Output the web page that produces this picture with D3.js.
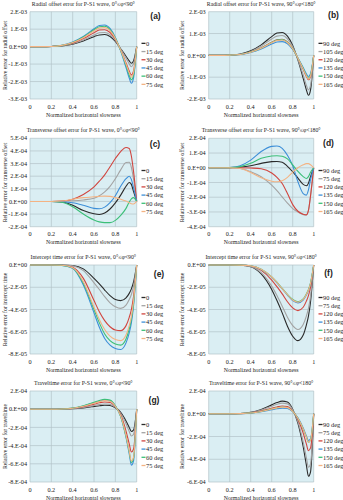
<!DOCTYPE html>
<html>
<head>
<meta charset="utf-8">
<script src="https://cdn.jsdelivr.net/npm/d3@7"></script>
<style>
  html, body { margin: 0; padding: 0; background: #ffffff; }
  svg { display: block; }
  text { font-family: "Liberation Serif", "Times New Roman", serif; fill: #222; }
  .plabel { font-family: "Liberation Sans", Arial, sans-serif; font-weight: bold; }
</style>
</head>
<body>
<svg id="chart" width="343" height="500"></svg>
<script>
// Normalized horizontal slowness sample points shared by every curve
const slowness = [0, 0.1, 0.2, 0.3, 0.4, 0.5, 0.6, 0.65, 0.7, 0.75, 0.8, 0.85, 0.9, 0.93, 0.95, 0.97, 1];

// Legend entries
const azimuthsLow = ["0", "15 deg", "30 deg", "45 deg", "60 deg", "75 deg"];
const azimuthsHighB = ["90 deg", "105 deg", "120 deg", "135 deg", "150 deg", "165 deg"];
const azimuthsHigh = ["90 deg", "75 deg", "120 deg", "135 deg", "150 deg", "165 deg"];

// (a) radial offset error, 0 <= phi < 90  (x 1e-3)
const radialLow = [
  [0, 0, 0.01, 0.04, 0.14, 0.32, 0.57, 0.67, 0.69, 0.58, 0.30, -0.12, -0.55, -0.82, -0.95, -0.82, 0],
  [0, 0, 0.01, 0.05, 0.17, 0.38, 0.67, 0.79, 0.81, 0.68, 0.35, -0.14, -0.66, -0.99, -1.15, -0.99, 0],
  [0, 0, 0.01, 0.06, 0.20, 0.46, 0.80, 0.95, 0.97, 0.81, 0.42, -0.20, -0.93, -1.40, -1.62, -1.40, 0],
  [0, 0, 0.01, 0.08, 0.26, 0.58, 1.02, 1.21, 1.24, 1.04, 0.53, -0.25, -1.20, -1.80, -2.10, -1.80, 0],
  [0, 0, 0.01, 0.07, 0.24, 0.55, 0.97, 1.14, 1.17, 0.98, 0.50, -0.23, -1.08, -1.64, -1.90, -1.64, 0],
  [0, 0, 0.01, 0.07, 0.23, 0.51, 0.90, 1.06, 1.09, 0.91, 0.47, -0.21, -1.00, -1.50, -1.75, -1.50, 0]
];
// (b) radial offset error, 90 <= phi < 180  (x 1e-3)
const radialHigh = [
  [0, 0, 0.01, 0.06, 0.21, 0.48, 0.86, 1.02, 1.05, 0.88, 0.45, -0.22, -1.05, -1.58, -1.83, -1.58, 0],
  [0, 0, 0.01, 0.05, 0.18, 0.42, 0.75, 0.88, 0.91, 0.76, 0.39, -0.19, -0.90, -1.37, -1.58, -1.37, 0],
  [0, 0, 0.01, 0.04, 0.15, 0.34, 0.60, 0.71, 0.73, 0.61, 0.31, -0.14, -0.64, -0.97, -1.12, -0.97, 0],
  [0, 0, 0.01, 0.04, 0.13, 0.29, 0.52, 0.61, 0.63, 0.53, 0.27, -0.12, -0.56, -0.84, -0.97, -0.84, 0],
  [0, 0, 0.01, 0.04, 0.15, 0.33, 0.59, 0.70, 0.72, 0.60, 0.31, -0.13, -0.60, -0.91, -1.05, -0.91, 0],
  [0, 0, 0.01, 0.04, 0.14, 0.32, 0.58, 0.68, 0.70, 0.59, 0.30, -0.13, -0.62, -0.94, -1.09, -0.94, 0]
];
// (c) transverse offset error, 0 <= phi < 90  (x 1e-4)
const transverseLow = [
  [0, 0, 0, -0.05, -0.30, -0.72, -0.98, -1.03, -0.92, -0.60, -0.12, 0.50, 1.20, 1.50, 1.35, 0.80, 0],
  [0, 0, 0, 0.01, 0.05, 0.12, 0.25, 0.45, 0.76, 1.20, 1.80, 2.50, 3.08, 3.10, 2.70, 1.80, 0],
  [0, 0, 0, 0.03, 0.18, 0.55, 1.15, 1.60, 2.10, 2.75, 3.40, 3.95, 4.27, 4.20, 3.60, 2.40, 0],
  [0, 0, 0, -0.02, -0.10, -0.30, -0.55, -0.58, -0.45, -0.10, 0.45, 1.20, 1.80, 2.00, 1.75, 1.10, 0],
  [0, 0, 0, -0.06, -0.42, -1.00, -1.47, -1.62, -1.68, -1.68, -1.50, -1.10, -0.55, -0.05, 0.20, 0.30, 0],
  [0, 0, 0, 0.03, 0.18, 0.30, 0.37, 0.40, 0.42, 0.40, 0.30, 0.18, 0.03, -0.10, -0.18, -0.20, 0]
];
// (d) transverse offset error, 90 <= phi < 180  (x 1e-4)
const transverseHigh = [
  [0, 0, 0.01, 0.05, 0.14, 0.30, 0.42, 0.43, 0.38, 0.10, -0.27, -0.70, -1.13, -1.22, -1.05, -0.60, 0],
  [0, 0, 0, -0.05, -0.27, -0.61, -1.18, -1.55, -1.98, -2.40, -2.77, -3.00, -3.18, -3.20, -2.90, -1.90, 0],
  [0, 0, 0, 0, -0.02, -0.07, -0.35, -0.65, -1.07, -1.75, -2.50, -2.95, -3.15, -3.20, -2.90, -1.90, 0],
  [0, 0, 0.02, 0.14, 0.52, 1.10, 1.45, 1.48, 1.32, 0.85, 0.14, -0.95, -1.75, -1.86, -1.50, -0.80, 0],
  [0, 0, 0.01, 0.08, 0.30, 0.64, 0.80, 0.82, 0.78, 0.60, 0.20, -0.25, -0.60, -0.73, -0.60, -0.30, 0],
  [0, 0, 0, -0.05, -0.32, -0.68, -0.91, -0.95, -0.88, -0.65, -0.30, 0.00, 0.20, 0.28, 0.28, 0.20, 0]
];
// (e) intercept time error, 0 <= phi < 90  (x 1e-5)
const interceptLow = [
  [0, 0, 0, 0, -0.05, -0.35, -1.20, -1.70, -2.25, -2.75, -3.10, -3.20, -2.95, -2.55, -2.15, -1.55, 0],
  [0, 0, 0, -0.01, -0.08, -0.50, -1.60, -2.20, -2.85, -3.40, -3.75, -3.90, -3.60, -3.10, -2.65, -1.90, 0],
  [0, 0, 0, -0.02, -0.20, -1.20, -3.20, -4.20, -5.00, -5.55, -5.85, -5.90, -5.45, -4.70, -4.00, -2.85, 0],
  [0, 0, 0, -0.03, -0.30, -1.80, -4.30, -5.60, -6.60, -7.20, -7.50, -7.60, -7.00, -6.10, -5.20, -3.70, 0],
  [0, 0, 0, -0.03, -0.28, -1.65, -4.00, -5.20, -6.20, -6.80, -7.10, -7.20, -6.65, -5.75, -4.90, -3.50, 0],
  [0, 0, 0, -0.02, -0.25, -1.50, -3.80, -4.90, -5.80, -6.40, -6.70, -6.80, -6.30, -5.45, -4.65, -3.30, 0]
];
// (f) intercept time error, 90 <= phi < 180  (x 1e-5)
const interceptHigh = [
  [0, 0, 0, -0.02, -0.15, -0.80, -2.20, -3.20, -4.30, -5.50, -6.40, -6.80, -6.30, -5.40, -4.60, -3.30, 0],
  [0, 0, 0, -0.02, -0.13, -0.68, -1.90, -2.75, -3.70, -4.70, -5.45, -5.80, -5.35, -4.60, -3.90, -2.80, 0],
  [0, 0, 0, -0.01, -0.09, -0.48, -1.35, -1.95, -2.60, -3.30, -3.85, -4.10, -3.80, -3.25, -2.75, -2.00, 0],
  [0, 0, 0, -0.01, -0.08, -0.40, -1.10, -1.60, -2.15, -2.70, -3.20, -3.40, -3.15, -2.70, -2.30, -1.65, 0],
  [0, 0, 0, -0.01, -0.07, -0.38, -1.07, -1.55, -2.10, -2.65, -3.10, -3.30, -3.05, -2.60, -2.20, -1.60, 0],
  [0, 0, 0, -0.01, -0.08, -0.39, -1.08, -1.57, -2.12, -2.67, -3.15, -3.35, -3.10, -2.65, -2.25, -1.62, 0]
];
// (g) traveltime error, 0 <= phi < 90  (x 1e-4)
const traveltimeLow = [
  [0, 0, 0, 0.01, 0.05, 0.15, 0.30, 0.38, 0.43, 0.40, 0.15, -0.35, -1.30, -2.00, -2.45, -2.30, 0],
  [0, 0, 0, 0.01, 0.06, 0.20, 0.40, 0.50, 0.57, 0.53, 0.20, -0.45, -1.60, -2.45, -2.95, -2.75, 0],
  [0, 0, 0, 0.02, 0.09, 0.28, 0.55, 0.70, 0.79, 0.74, 0.28, -0.60, -2.40, -3.80, -4.70, -4.40, 0],
  [0, 0, 0, 0.02, 0.11, 0.36, 0.70, 0.89, 1.00, 0.94, 0.35, -0.80, -3.10, -4.90, -6.15, -5.70, 0],
  [0, 0, 0, 0.02, 0.12, 0.38, 0.75, 0.96, 1.08, 1.00, 0.37, -0.80, -3.00, -4.70, -5.85, -5.40, 0],
  [0, 0, 0, 0.02, 0.10, 0.33, 0.65, 0.83, 0.94, 0.88, 0.33, -0.75, -2.90, -4.60, -5.70, -5.30, 0]
];
// (h) traveltime error, 90 <= phi < 180  (x 1e-4)
const traveltimeHigh = [
  [0, 0, 0, 0.02, 0.12, 0.38, 0.78, 0.98, 1.11, 1.03, 0.40, -0.85, -2.90, -4.50, -5.50, -5.10, 0],
  [0, 0, 0, 0.02, 0.10, 0.32, 0.66, 0.83, 0.93, 0.87, 0.34, -0.72, -2.50, -3.85, -4.70, -4.40, 0],
  [0, 0, 0, 0.01, 0.07, 0.23, 0.48, 0.60, 0.68, 0.63, 0.24, -0.50, -1.70, -2.65, -3.25, -3.00, 0],
  [0, 0, 0, 0.01, 0.05, 0.17, 0.35, 0.44, 0.49, 0.46, 0.18, -0.36, -1.25, -1.95, -2.35, -2.20, 0],
  [0, 0, 0, 0.01, 0.06, 0.20, 0.42, 0.53, 0.59, 0.55, 0.21, -0.40, -1.35, -2.05, -2.50, -2.30, 0],
  [0, 0, 0, 0.01, 0.06, 0.20, 0.41, 0.52, 0.58, 0.54, 0.20, -0.40, -1.33, -2.05, -2.50, -2.30, 0]
];

// Axis ticks (in the panel's unit)
const xTicks = [0, 0.2, 0.4, 0.6, 0.8, 1];
const xTickLabels = ["0", "0.2", "0.4", "0.6", "0.8", "1"];
const yTicksRadialLow = [-3, -2, -1, 0, 1, 2];
const yTicksRadialHigh = [-2, -1, 0, 1, 2];
const yTicksTransLow = [-2, -1, 0, 1, 2, 3, 4, 5];
const yTicksTransHigh = [-4, -3, -2, -1, 0, 1, 2];
const yTicksIntercept = [-8, -6, -4, -2, 0];
const yTicksTravelLow = [-8, -6, -4, -2, 0, 2];
const yTicksTravelHigh = [-6, -4, -2, 0, 2];

// Series colours in legend order
const seriesColors = ["#2a2a2a", "#a3a3a3", "#d1453f", "#3d8fd8", "#3cbf78", "#f4b383"];

const lowTag = "0°≤φ<90°";
const highTag = "90°≤φ<180°";

const panels = [
  { title: "Radial offset error for P-S1 wave, " + lowTag, yTitle: "Relative error for radial offset",
    data: radialLow, exp: 3, ticks: yTicksRadialLow, legend: azimuthsLow, tag: "(a)", col: 0, row: 0, tagPos: [155.5, 16] },
  { title: "Radial offset error for P-S1 wave, " + highTag, yTitle: "Relative error for radial offset",
    data: radialHigh, exp: 3, ticks: yTicksRadialHigh, legend: azimuthsHighB, tag: "(b)", col: 1, row: 0, tagPos: [333.5, 15] },
  { title: "Transverse offset error for P-S1 wave, " + lowTag, yTitle: "Relative error for transverse offset",
    data: transverseLow, exp: 4, ticks: yTicksTransLow, legend: azimuthsLow, tag: "(c)", col: 0, row: 1, tagPos: [155, 144] },
  { title: "Transverse offset error for P-S1 wave, " + highTag, yTitle: "Relative error for transverse offset",
    data: transverseHigh, exp: 4, ticks: yTicksTransHigh, legend: azimuthsHigh, tag: "(d)", col: 1, row: 1, tagPos: [328.5, 143] },
  { title: "Intercept time error for P-S1 wave, " + lowTag, yTitle: "Relative error for intercept time",
    data: interceptLow, exp: 5, ticks: yTicksIntercept, legend: azimuthsLow, tag: "(e)", col: 0, row: 2, tagPos: [159, 274] },
  { title: "Intercept time error for P-S1 wave, " + highTag, yTitle: "Relative error for intercept time",
    data: interceptHigh, exp: 5, ticks: yTicksIntercept, legend: azimuthsHigh, tag: "(f)", col: 1, row: 2, tagPos: [328.5, 273] },
  { title: "Traveltime error for P-S1 wave, " + lowTag, yTitle: "Relative error for traveltime",
    data: traveltimeLow, exp: 4, ticks: yTicksTravelLow, legend: azimuthsLow, tag: "(g)", col: 0, row: 3, tagPos: [154, 400] },
  { title: "Traveltime error for P-S1 wave, " + highTag, yTitle: "Relative error for traveltime",
    data: traveltimeHigh, exp: 4, ticks: yTicksTravelHigh, legend: azimuthsHigh, tag: null, col: 1, row: 3, tagPos: null }
];

// Plot-area geometry
const colX = [[30, 136.7], [208.7, 313.7]];
const rowY = [[11.7, 99], [138.3, 226.7], [265, 354], [391, 482]];
const yTitleX = [5, 181.5];
const legendX = [141.5, 318.5];

function sciLabel(v, exp) {
  if (v === 0) return "0.E+00";
  return v + ".E-" + String(exp).padStart(2, "0");
}

const svg = d3.select("#chart");

panels.forEach(p => {
  const [x0, x1] = colX[p.col];
  const [y0, y1] = rowY[p.row];
  const unit = Math.pow(10, -p.exp);
  const x = d3.scaleLinear().domain([0, 1]).range([x0, x1]);
  const y = d3.scaleLinear()
    .domain([d3.min(p.ticks) * unit, d3.max(p.ticks) * unit])
    .range([y1, y0]);

  const g = svg.append("g");

  // plot background
  g.append("rect").attr("x", x0).attr("y", y0)
    .attr("width", x1 - x0).attr("height", y1 - y0).attr("fill", "#daeef3");

  // grid
  g.append("g").selectAll("line.v").data(xTicks).join("line")
    .attr("x1", d => x(d)).attr("x2", d => x(d)).attr("y1", y0).attr("y2", y1)
    .attr("stroke", "#b3c3c8").attr("stroke-width", 0.7);
  g.append("g").selectAll("line.h").data(p.ticks).join("line")
    .attr("x1", x0).attr("x2", x1).attr("y1", d => y(d * unit)).attr("y2", d => y(d * unit))
    .attr("stroke", "#b3c3c8").attr("stroke-width", 0.7);

  // y tick labels
  g.append("g").selectAll("text").data(p.ticks).join("text")
    .attr("x", x0 - 3).attr("y", d => y(d * unit)).attr("dy", "0.35em")
    .attr("text-anchor", "end").attr("font-size", 6.2)
    .text(d => sciLabel(d, p.exp));

  // x tick labels
  g.append("g").selectAll("text").data(xTicks).join("text")
    .attr("x", d => x(d)).attr("y", y1 + 9.5)
    .attr("text-anchor", "middle").attr("font-size", 6.2)
    .text((d, i) => xTickLabels[i]);

  // axis titles
  g.append("text").attr("x", (x0 + x1) / 2).attr("y", y1 + 17.5)
    .attr("text-anchor", "middle").attr("font-size", 5.8)
    .text("Normalized horizontal slowness");
  g.append("text")
    .attr("transform", `translate(${yTitleX[p.col]},${(y0 + y1) / 2}) rotate(-90)`)
    .attr("text-anchor", "middle").attr("dy", "0.35em").attr("font-size", 5.8)
    .text(p.yTitle);

  // chart title
  g.append("text").attr("x", (x0 + x1) / 2).attr("y", y0 - 6)
    .attr("text-anchor", "middle").attr("font-size", 5.8)
    .text(p.title);

  // curves
  const line = d3.line()
    .x((d, i) => x(slowness[i]))
    .y(d => y(d * unit))
    .curve(d3.curveMonotoneX);
  g.append("g").selectAll("path").data(p.data).join("path")
    .attr("d", d => line(d))
    .attr("fill", "none")
    .attr("stroke", (d, i) => seriesColors[i])
    .attr("stroke-width", 1.1);

  // legend
  const midY = (y0 + y1) / 2 + 8.5;
  const rowH = 8.2;
  const ly0 = midY - rowH * 2.5;
  const lg = g.append("g");
  p.legend.forEach((name, i) => {
    const ly = ly0 + i * rowH;
    lg.append("line").attr("x1", legendX[p.col]).attr("x2", legendX[p.col] + 4)
      .attr("y1", ly).attr("y2", ly)
      .attr("stroke", seriesColors[i]).attr("stroke-width", 1.3);
    lg.append("text").attr("x", legendX[p.col] + 4.5).attr("y", ly).attr("dy", "0.35em")
      .attr("font-size", 6.4).text(name);
  });

  // panel tag
  if (p.tag) {
    g.append("text").attr("class", "plabel")
      .attr("x", p.tagPos[0]).attr("y", p.tagPos[1]).attr("dy", "0.35em")
      .attr("text-anchor", "middle").attr("font-size", 8.5)
      .text(p.tag);
  }
});
</script>
</body>
</html>
